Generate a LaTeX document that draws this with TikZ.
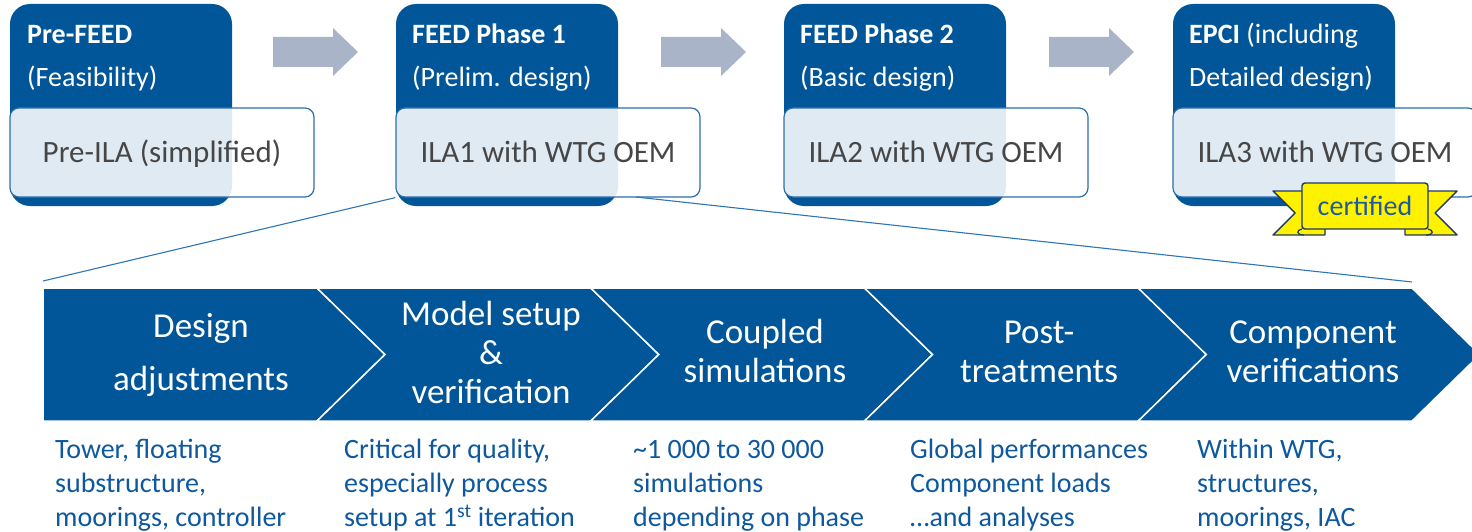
\documentclass[tikz,border=0pt]{standalone}
\usepackage{fontspec}
\setmainfont{Carlito}
\definecolor{dkblue}{RGB}{0,86,152}
\definecolor{txtblue}{RGB}{14,88,158}
\definecolor{arrowgrey}{RGB}{170,180,201}
\definecolor{zoomblue}{RGB}{46,117,182}
\definecolor{boxline}{RGB}{46,110,170}
\definecolor{ilagrey}{RGB}{70,70,70}
\definecolor{ribline}{RGB}{31,56,100}
\definecolor{certblue}{RGB}{31,90,160}
\begin{document}
\begin{tikzpicture}[x=1pt,y=-1pt,
  darkbox/.style={fill=dkblue, rounded corners=20pt, minimum width=222pt, minimum height=202pt, inner sep=0pt},
  litebox/.style={draw=boxline, line width=1.2pt, fill=white, fill opacity=0.88, rounded corners=9pt, minimum width=304pt, minimum height=89pt, inner sep=0pt},
  phasetxt/.style={anchor=north west, align=left, inner sep=0pt, text=white, font=\fontsize{28}{43}\selectfont},
  ilatxt/.style={anchor=base, inner sep=0pt, text=ilagrey, font=\fontsize{31}{37}\selectfont},
  greyarrow/.style={fill=arrowgrey},
  chev/.style={fill=dkblue, draw=white, line width=1.5pt, line join=miter},
  chevtxt/.style={anchor=north, align=center, inner sep=0pt, text=white, font=\fontsize{35}{39}\selectfont},
  desc/.style={anchor=north west, align=left, inner sep=0pt, text=txtblue, font=\fontsize{28}{34}\selectfont},
  zoomline/.style={draw=zoomblue, line width=1.1pt},
  ribpart/.style={fill=yellow, draw=ribline, line width=1.4pt, line join=round},
  ribbonbox/.style={fill=yellow, draw=ribline, line width=1.4pt, rounded corners=3pt, minimum width=126pt, minimum height=46pt, inner sep=0pt, text=certblue, font=\fontsize{28}{34}\selectfont}
]
\useasboundingbox (0,0) rectangle (1472,532);
\clip (0,0) rectangle (1472,532);

% phase boxes
\node[darkbox] (d0) at (121,105) {};
\node[darkbox] (d1) at (507,105) {};
\node[darkbox] (d2) at (895,105) {};
\node[darkbox] (d3) at (1284,105) {};

\node[phasetxt] (p0) at (27,12.9) {\strut\textbf{Pre-FEED}\\\strut(Feasibility)};
\node[phasetxt] (p1) at (412,12.9) {\strut\textbf{FEED Phase 1}\\\strut(Prelim. design)};
\node[phasetxt] (p2) at (800,12.9) {\strut\textbf{FEED Phase 2}\\\strut(Basic design)};
\node[phasetxt] (p3) at (1189,12.9) {\strut\textbf{EPCI} (including\\\strut Detailed design)};

\node[litebox] (ila0) at (162,152.5) {};
\node[litebox] (ila1) at (548,152.5) {};
\node[litebox] (ila2) at (936,152.5) {};
\node[litebox] (ila3) at (1325,152.5) {};

\node[ilatxt] (t0) at (162,162) {Pre-ILA (simplified)};
\node[ilatxt] (t1) at (548,162) {ILA1 with WTG OEM};
\node[ilatxt] (t2) at (936,162) {ILA2 with WTG OEM};
\node[ilatxt] (t3) at (1325,162) {ILA3 with WTG OEM};

% grey arrows
\foreach \o in {0,388,776}{
  \fill[greyarrow] (273+\o,37) -- (333+\o,37) -- (333+\o,28) -- (358+\o,52) -- (333+\o,76) -- (333+\o,67) -- (273+\o,67) -- cycle;
}

% certified ribbon
\filldraw[ribpart] (1273,191) -- (1325,191) -- (1325,235) -- (1273,235) -- (1295,213) -- cycle;
\filldraw[ribpart] (1457,191) -- (1405,191) -- (1405,235) -- (1457,235) -- (1435,213) -- cycle;
\draw[ribline, line width=1.2pt] (1302,229) .. controls (1296,230) and (1296,235) .. (1304,235);
\draw[ribline, line width=1.2pt] (1428,229) .. controls (1434,230) and (1434,235) .. (1426,235);
\node[ribbonbox] (cert) at (1365,206) {certified};

% zoom lines
\coordinate (zs) at (636,197);
\coordinate (zl) at (43,281);
\coordinate (zr) at (1412,282);
\draw[zoomline] (ila1.south west) -- (zl);
\draw[zoomline] (zs) -- (zr);

% chevrons
\filldraw[chev] (43,288) -- (317,288) -- (385,354.5) -- (317,421) -- (43,421) -- cycle;
\foreach \i in {1,...,4}{
  \filldraw[chev] ({317+273.75*(\i-1)},288) -- ({317+273.75*\i},288) -- ({385+273.75*\i},354.5) -- ({317+273.75*\i},421) -- ({317+273.75*(\i-1)},421) -- ({385+273.75*(\i-1)},354.5) -- cycle;
}

\node[chevtxt] (c1) at (201,309.7) {\strut Design\\[14pt]\strut adjustments};
\node[chevtxt] (c2) at (491,297.7) {\strut Model setup\\\strut \&\\\strut verification};
\node[chevtxt] (c3) at (765,315.7) {\strut Coupled\\\strut simulations};
\node[chevtxt] (c4) at (1039,315.7) {\strut Post-\\\strut treatments};
\node[chevtxt] (c5) at (1313,315.7) {\strut Component\\\strut verifications};

% descriptions
\node[desc] (e1) at (55,434.2) {\strut Tower, floating\\\strut substructure,\\\strut moorings, controller};
\node[desc] (e2) at (344,434.2) {\strut Critical for quality,\\\strut especially process\\\strut setup at 1\textsuperscript{st} iteration};
\node[desc] (e3) at (633,434.2) {\strut\textasciitilde 1 000 to 30 000\\\strut simulations\\\strut depending on phase};
\node[desc] (e4) at (910,434.2) {\strut Global performances\\\strut Component loads\\\strut …and analyses};
\node[desc] (e5) at (1197,434.2) {\strut Within WTG,\\\strut structures,\\\strut moorings, IAC};
\end{tikzpicture}
\end{document}
